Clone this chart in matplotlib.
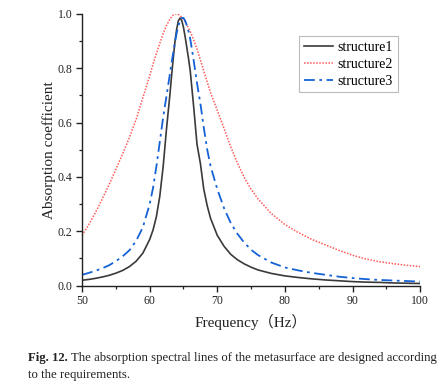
import matplotlib
matplotlib.use("Agg")
import matplotlib.pyplot as plt
from matplotlib.ticker import MultipleLocator

freq = [50, 51, 52, 53, 54, 55, 56, 57, 58, 59, 60, 60.5, 61, 61.5, 62, 62.5, 63, 63.25,
        63.5, 63.75, 64, 64.25, 64.5, 64.75, 65, 65.25, 65.5, 65.75, 66, 66.5, 67, 67.5,
        68, 68.5, 69, 70, 71, 72, 73, 74, 75, 76, 78, 80, 82, 84, 86, 88, 90, 92, 94, 96,
        98, 100]

structure1 = [0.020, 0.023, 0.027, 0.032, 0.038, 0.046, 0.056, 0.070, 0.090, 0.120, 0.170,
              0.205, 0.255, 0.330, 0.440, 0.580, 0.705, 0.775, 0.840, 0.900, 0.945, 0.975,
              0.985, 0.975, 0.950, 0.915, 0.875, 0.835, 0.790, 0.660, 0.520, 0.450, 0.355,
              0.295, 0.248, 0.185, 0.145, 0.115, 0.095, 0.080, 0.068, 0.058, 0.045, 0.036,
              0.030, 0.025, 0.021, 0.018, 0.015, 0.013, 0.012, 0.010, 0.009, 0.008]

structure2 = [0.185, 0.225, 0.270, 0.320, 0.372, 0.428, 0.485, 0.545, 0.612, 0.692, 0.772,
              0.815, 0.855, 0.892, 0.928, 0.958, 0.980, 0.990, 0.996, 0.999, 1.000, 0.998,
              0.993, 0.987, 0.980, 0.970, 0.960, 0.948, 0.935, 0.905, 0.870, 0.830, 0.790,
              0.750, 0.710, 0.645, 0.578, 0.510, 0.450, 0.397, 0.355, 0.320, 0.265, 0.225,
              0.195, 0.170, 0.150, 0.130, 0.112, 0.098, 0.088, 0.081, 0.075, 0.070]

structure3 = [0.040, 0.047, 0.055, 0.064, 0.075, 0.090, 0.108, 0.130, 0.165, 0.215, 0.300,
              0.360, 0.440, 0.530, 0.620, 0.700, 0.780, 0.822, 0.860, 0.897, 0.930, 0.957,
              0.975, 0.985, 0.985, 0.975, 0.957, 0.935, 0.908, 0.830, 0.745, 0.670, 0.582,
              0.502, 0.440, 0.355, 0.285, 0.230, 0.190, 0.158, 0.132, 0.113, 0.085, 0.067,
              0.056, 0.047, 0.040, 0.033, 0.028, 0.024, 0.021, 0.019, 0.017, 0.015]

labels = ["structure1", "structure2", "structure3"]
xlabel = "Frequency（Hz）"
ylabel = "Absorption coefficient"
caption_bold = "Fig. 12."
caption_rest = "The absorption spectral lines of the metasurface are designed according"
caption_line2 = "to the requirements."

plt.rcParams['font.family'] = ['Liberation Serif', 'Noto Sans CJK SC', 'DejaVu Sans']

fig = plt.figure(figsize=(4.46, 3.85), dpi=100)
ax = fig.add_axes([0.184, 0.258, 0.758, 0.706])

ax.plot(freq, structure1, color='#3a3a3a', lw=1.2, label=labels[0])
ax.plot(freq, structure2, color='#ff5a5a', lw=1.1, ls=(0, (1, 1)), label=labels[1])
ax.plot(freq, structure3, color='#1462d6', lw=1.3, ls=(0, (6, 2.5, 1.5, 2.5)), label=labels[2])

ax.set_xlim(50, 100)
ax.set_ylim(0, 1.0)
ax.xaxis.set_major_locator(MultipleLocator(10))
ax.xaxis.set_minor_locator(MultipleLocator(5))
ax.yaxis.set_major_locator(MultipleLocator(0.2))
ax.yaxis.set_minor_locator(MultipleLocator(0.1))
ax.yaxis.set_major_formatter(plt.FuncFormatter(lambda v, p: f"{v:.1f}"))

for s in ['top', 'right']:
    ax.spines[s].set_visible(False)
for s in ['left', 'bottom']:
    ax.spines[s].set_linewidth(1.0)
    ax.spines[s].set_color('#222222')

ax.tick_params(which='major', direction='out', length=4, width=1.0, labelsize=8.5, colors='#222222', pad=3)
ax.tick_params(which='minor', direction='out', length=2.5, width=0.9, colors='#222222')

ax.set_xlabel(xlabel, fontsize=11, labelpad=5, color='#222222')
ax.set_ylabel(ylabel, fontsize=11, labelpad=1, color='#222222')

leg = ax.legend(loc='upper left', bbox_to_anchor=(0.642, 0.919), fontsize=10,
                frameon=True, fancybox=False, edgecolor='#aaaaaa', handlelength=2.1,
                handletextpad=0.3, borderpad=0.35, labelspacing=0.28, borderaxespad=0)
leg.get_frame().set_linewidth(0.8)

cap_fs = 9.2
y1 = 1 - 358/385
y2 = 1 - 375/385
tb = fig.text(28/446, y1, caption_bold, fontsize=cap_fs, fontweight='bold', va='center', ha='left', color='#222222')
renderer = fig.canvas.get_renderer()
bb = tb.get_window_extent(renderer=renderer)
x_rest = (bb.x1 + 3) / fig.bbox.width
fig.text(x_rest, y1, caption_rest, fontsize=cap_fs, va='center', ha='left', color='#222222')
fig.text(28/446, y2, caption_line2, fontsize=cap_fs, va='center', ha='left', color='#222222')

fig.savefig("out.png", dpi=100)
